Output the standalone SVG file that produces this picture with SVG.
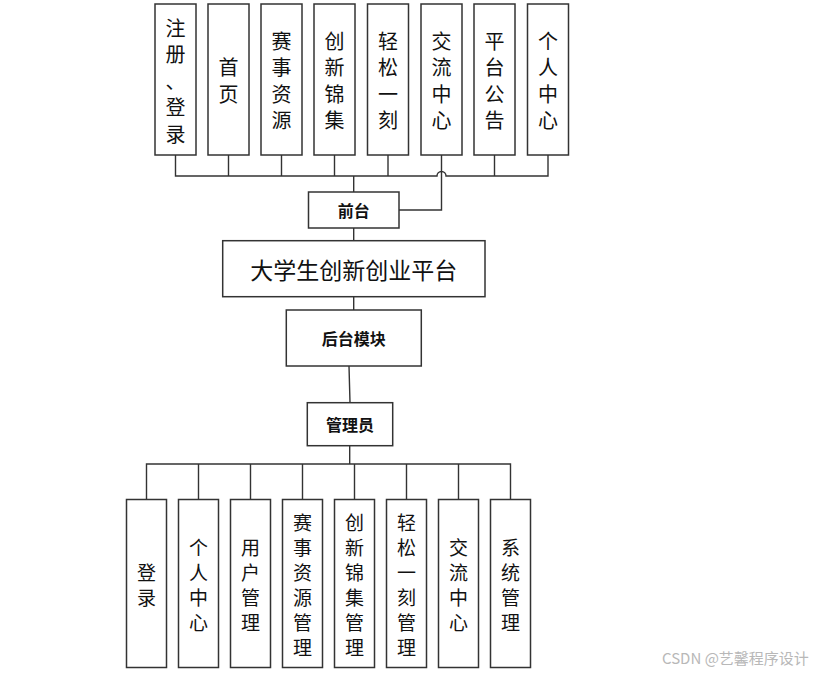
<svg xmlns="http://www.w3.org/2000/svg" width="821" height="677" viewBox="0 0 821 677">
<defs>
<style>
.box{fill:#fff;stroke:#333;stroke-width:1.5}
.ln{fill:none;stroke:#333;stroke-width:1.4}
.t{font-family:"Noto Sans CJK SC","Noto Sans",sans-serif;fill:#111;text-anchor:middle;dominant-baseline:central}
.v1{font-size:20px}
.v2{font-size:19px}
.b{font-size:16px;font-weight:bold}
.big{font-size:23px}
.wm{font-family:"Noto Sans CJK SC","Noto Sans",sans-serif;font-size:15px;fill:#b8b8b8}
</style>
</defs>
<rect width="821" height="677" fill="#fff"/>
<g id="connectors">
<path class="ln" d="M175.5,155V176H437A4.5,4.5 0 0 1 446,176H548V155"/>
<path class="ln" d="M228.5,155V176M281.5,155V176M334.5,155V176M388,155V176M494.5,155V176"/>
<path class="ln" d="M441.5,155V210H399"/>
<path class="ln" d="M353.7,176V192M353.7,228V240.7M353.7,296.7V310M349,366L350,402.7M349.7,445.7V464"/>
<path class="ln" d="M146.5,499.5V464H510.5V499.5M198.5,464V499.5M250.5,464V499.5M302.5,464V499.5M354.5,464V499.5M406.5,464V499.5M458.5,464V499.5"/>
</g>
<g id="n-zhuce"><rect class="box" x="155" y="4" width="41" height="151"/><text class="t v1"><tspan x="175.5" y="26.5">注</tspan><tspan x="175.5" y="53">册</tspan><tspan x="175.5" y="79.5">、</tspan><tspan x="175.5" y="106">登</tspan><tspan x="175.5" y="132.5">录</tspan></text></g>
<g id="n-shouye"><rect class="box" x="208" y="4" width="41" height="151"/><text class="t v1"><tspan x="228.5" y="66.25">首</tspan><tspan x="228.5" y="92.75">页</tspan></text></g>
<g id="n-saishi"><rect class="box" x="261" y="4" width="41" height="151"/><text class="t v1"><tspan x="281.5" y="39.75">赛</tspan><tspan x="281.5" y="66.25">事</tspan><tspan x="281.5" y="92.75">资</tspan><tspan x="281.5" y="119.25">源</tspan></text></g>
<g id="n-chuangxin"><rect class="box" x="314" y="4" width="41" height="151"/><text class="t v1"><tspan x="334.5" y="39.75">创</tspan><tspan x="334.5" y="66.25">新</tspan><tspan x="334.5" y="92.75">锦</tspan><tspan x="334.5" y="119.25">集</tspan></text></g>
<g id="n-qingsong"><rect class="box" x="367.5" y="4" width="41" height="151"/><text class="t v1"><tspan x="388" y="39.75">轻</tspan><tspan x="388" y="66.25">松</tspan><tspan x="388" y="92.75">一</tspan><tspan x="388" y="119.25">刻</tspan></text></g>
<g id="n-jiaoliu"><rect class="box" x="421" y="4" width="41" height="151"/><text class="t v1"><tspan x="441.5" y="39.75">交</tspan><tspan x="441.5" y="66.25">流</tspan><tspan x="441.5" y="92.75">中</tspan><tspan x="441.5" y="119.25">心</tspan></text></g>
<g id="n-gonggao"><rect class="box" x="474" y="4" width="41" height="151"/><text class="t v1"><tspan x="494.5" y="39.75">平</tspan><tspan x="494.5" y="66.25">台</tspan><tspan x="494.5" y="92.75">公</tspan><tspan x="494.5" y="119.25">告</tspan></text></g>
<g id="n-geren"><rect class="box" x="527.5" y="4" width="41" height="151"/><text class="t v1"><tspan x="548" y="39.75">个</tspan><tspan x="548" y="66.25">人</tspan><tspan x="548" y="92.75">中</tspan><tspan x="548" y="119.25">心</tspan></text></g>
<g id="n-qiantai"><rect class="box" x="308.5" y="192" width="90.5" height="36"/><text class="t b" x="353.7" y="210">前台</text></g>
<g id="n-platform"><rect class="box" x="222.7" y="240.7" width="262.3" height="56"/><text class="t big" x="353.7" y="268.7">大学生创新创业平台</text></g>
<g id="n-houtai"><rect class="box" x="286.3" y="310" width="135" height="56"/><text class="t b" x="353.8" y="338">后台模块</text></g>
<g id="n-admin"><rect class="box" x="307.3" y="402.7" width="85.4" height="43"/><text class="t b" x="350" y="424.2">管理员</text></g>
<g id="b-denglu"><rect class="box" x="126.5" y="499.5" width="40" height="168"/><text class="t v2"><tspan x="146.5" y="571">登</tspan><tspan x="146.5" y="596">录</tspan></text></g>
<g id="b-geren"><rect class="box" x="178.5" y="499.5" width="40" height="168"/><text class="t v2"><tspan x="198.5" y="546">个</tspan><tspan x="198.5" y="571">人</tspan><tspan x="198.5" y="596">中</tspan><tspan x="198.5" y="621">心</tspan></text></g>
<g id="b-yonghu"><rect class="box" x="230.5" y="499.5" width="40" height="168"/><text class="t v2"><tspan x="250.5" y="546">用</tspan><tspan x="250.5" y="571">户</tspan><tspan x="250.5" y="596">管</tspan><tspan x="250.5" y="621">理</tspan></text></g>
<g id="b-saishi"><rect class="box" x="282.5" y="499.5" width="40" height="168"/><text class="t v2"><tspan x="302.5" y="521">赛</tspan><tspan x="302.5" y="546">事</tspan><tspan x="302.5" y="571">资</tspan><tspan x="302.5" y="596">源</tspan><tspan x="302.5" y="621">管</tspan><tspan x="302.5" y="646">理</tspan></text></g>
<g id="b-chuangxin"><rect class="box" x="334.5" y="499.5" width="40" height="168"/><text class="t v2"><tspan x="354.5" y="521">创</tspan><tspan x="354.5" y="546">新</tspan><tspan x="354.5" y="571">锦</tspan><tspan x="354.5" y="596">集</tspan><tspan x="354.5" y="621">管</tspan><tspan x="354.5" y="646">理</tspan></text></g>
<g id="b-qingsong"><rect class="box" x="386.5" y="499.5" width="40" height="168"/><text class="t v2"><tspan x="406.5" y="521">轻</tspan><tspan x="406.5" y="546">松</tspan><tspan x="406.5" y="571">一</tspan><tspan x="406.5" y="596">刻</tspan><tspan x="406.5" y="621">管</tspan><tspan x="406.5" y="646">理</tspan></text></g>
<g id="b-jiaoliu"><rect class="box" x="438.5" y="499.5" width="40" height="168"/><text class="t v2"><tspan x="458.5" y="546">交</tspan><tspan x="458.5" y="571">流</tspan><tspan x="458.5" y="596">中</tspan><tspan x="458.5" y="621">心</tspan></text></g>
<g id="b-xitong"><rect class="box" x="490.5" y="499.5" width="40" height="168"/><text class="t v2"><tspan x="510.5" y="546">系</tspan><tspan x="510.5" y="571">统</tspan><tspan x="510.5" y="596">管</tspan><tspan x="510.5" y="621">理</tspan></text></g>
<text class="wm" x="662" y="664">CSDN @艺馨程序设计</text>
</svg>
